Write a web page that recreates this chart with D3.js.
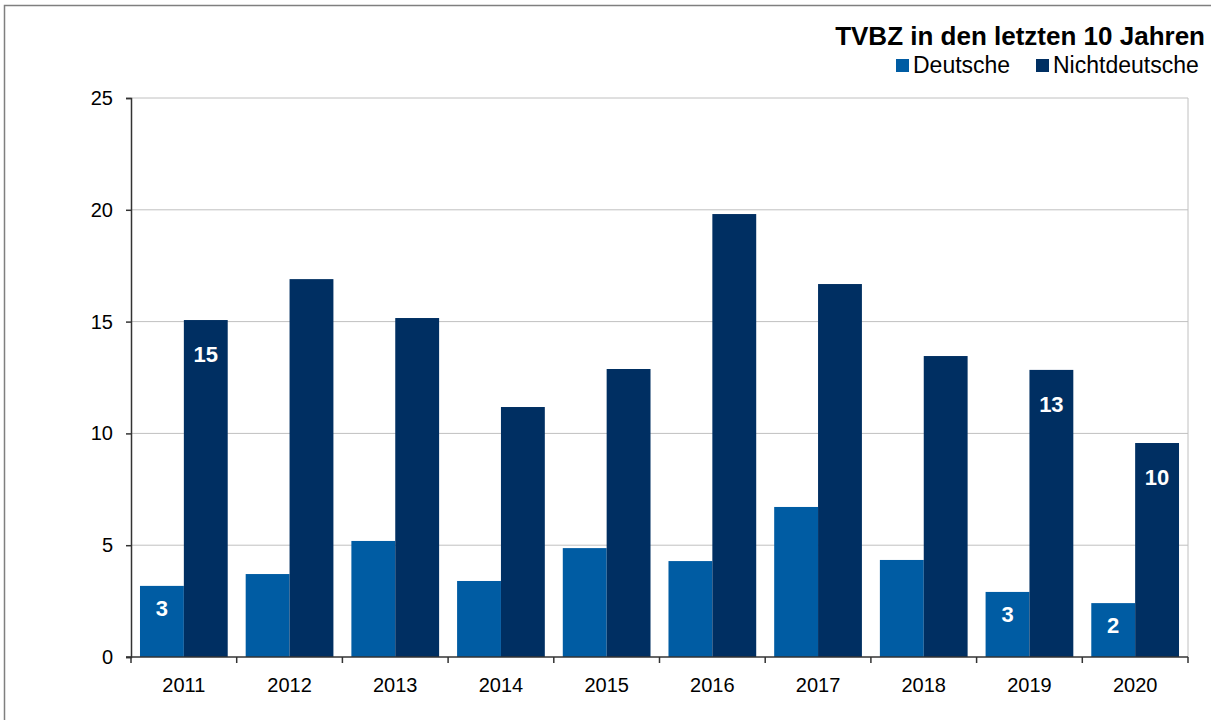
<!DOCTYPE html>
<html>
<head>
<meta charset="utf-8">
<script src="https://cdn.jsdelivr.net/npm/d3@7"></script>
<style>
  body { margin: 0; background: #fff; }
  text { font-family: "Liberation Sans", Arial, sans-serif; }
</style>
</head>
<body>
<svg id="chart" width="1211" height="720"></svg>
<script>
// data
const years = ["2011", "2012", "2013", "2014", "2015", "2016", "2017", "2018", "2019", "2020"];
const deutsche = [3.18, 3.71, 5.19, 3.40, 4.87, 4.29, 6.71, 4.34, 2.91, 2.41];
const nichtdeutsche = [15.07, 16.9, 15.16, 11.18, 12.88, 19.81, 16.68, 13.46, 12.84, 9.57];
const yTicks = [0, 5, 10, 15, 20, 25];
const seriesNames = ["Deutsche", "Nichtdeutsche"];
const seriesColors = ["#005ca3", "#002f62"];
// labels shown only on some bars
const labelYears = ["2011", "2019", "2020"];

const svg = d3.select("#chart");
const width = 1211, height = 720;
const margin = { left: 131, right: 23, top: 98, bottom: 63 };

// outer frame
svg.append("rect")
  .attr("x", 4.5).attr("y", 5.5)
  .attr("width", width + 10).attr("height", height + 10)
  .attr("fill", "none").attr("stroke", "#7f7f7f").attr("stroke-width", 1.5);

const x = d3.scaleBand()
  .domain(years)
  .range([margin.left, width - margin.right])
  .paddingInner(0.17).paddingOuter(0.085);

const xs = d3.scaleBand()
  .domain(seriesNames)
  .range([0, x.bandwidth()]);

const y = d3.scaleLinear()
  .domain([0, 25])
  .range([height - margin.bottom, margin.top]);

const plotRight = width - margin.right;

// gridlines
svg.append("g")
  .selectAll("line")
  .data(yTicks.filter(d => d > 0))
  .join("line")
  .attr("x1", margin.left).attr("x2", plotRight)
  .attr("y1", d => y(d)).attr("y2", d => y(d))
  .attr("stroke", "#c0c0c0").attr("stroke-width", 1);

// right border of plot area
svg.append("line")
  .attr("x1", plotRight).attr("x2", plotRight)
  .attr("y1", y(25)).attr("y2", y(0))
  .attr("stroke", "#c0c0c0");

// bars
const series = [deutsche, nichtdeutsche];
series.forEach((vals, si) => {
  svg.append("g")
    .selectAll("rect")
    .data(years)
    .join("rect")
    .attr("x", (d) => x(d) + xs(seriesNames[si]))
    .attr("y", (d, i) => y(vals[i]))
    .attr("width", xs.bandwidth())
    .attr("height", (d, i) => y(0) - y(vals[i]))
    .attr("fill", seriesColors[si]);
});

// data labels
series.forEach((vals, si) => {
  svg.append("g")
    .selectAll("text")
    .data(years.filter(d => labelYears.includes(d)))
    .join("text")
    .attr("x", d => x(d) + xs(seriesNames[si]) + xs.bandwidth() / 2)
    .attr("y", d => y(vals[years.indexOf(d)]) + (si === 0 ? 30 : 42))
    .attr("text-anchor", "middle")
    .attr("fill", "#fff")
    .attr("font-weight", "bold")
    .attr("font-size", "22px")
    .text(d => Math.round(vals[years.indexOf(d)]));
});

// y axis
const yAxis = d3.axisLeft(y).tickValues(yTicks).tickSize(5).tickPadding(13);
const gy = svg.append("g")
  .attr("transform", `translate(${margin.left},0)`)
  .call(yAxis);
gy.attr("font-size", null).attr("font-family", null);
gy.select(".domain").attr("stroke", "#333").attr("stroke-width", 1.5);
gy.selectAll(".tick line").attr("stroke", "#333").attr("stroke-width", 1.5);
gy.selectAll(".tick text").attr("font-size", "20px").attr("fill", "#000");

// x axis (ticks at category boundaries)
const gx = svg.append("g")
  .attr("transform", `translate(0,${y(0)})`);
gx.append("line")
  .attr("x1", margin.left - 5).attr("x2", plotRight)
  .attr("stroke", "#333").attr("stroke-width", 1.5);
const step = x.step();
const bounds = years.map((d, i) => margin.left + i * step).concat([plotRight]);
gx.selectAll(".xt")
  .data(bounds)
  .join("line")
  .attr("x1", d => d).attr("x2", d => d)
  .attr("y1", 0).attr("y2", 6)
  .attr("stroke", "#333").attr("stroke-width", 1.5);
gx.selectAll(".xl")
  .data(years)
  .join("text")
  .attr("x", d => x(d) + x.bandwidth() / 2)
  .attr("y", 35)
  .attr("text-anchor", "middle")
  .attr("font-size", "20px")
  .text(d => d);

// title
svg.append("text")
  .attr("x", 1205).attr("y", 45)
  .attr("text-anchor", "end")
  .attr("font-weight", "bold")
  .attr("font-size", "26px")
  .text("TVBZ in den letzten 10 Jahren");

// legend
const legendX = [896, 1036];
seriesNames.forEach((name, i) => {
  const g = svg.append("g").attr("transform", `translate(${legendX[i]},59)`);
  g.append("rect").attr("width", 13).attr("height", 13).attr("fill", seriesColors[i]);
  g.append("text").attr("x", 17).attr("y", 14).attr("font-size", "23px").text(name);
});
</script>
</body>
</html>
